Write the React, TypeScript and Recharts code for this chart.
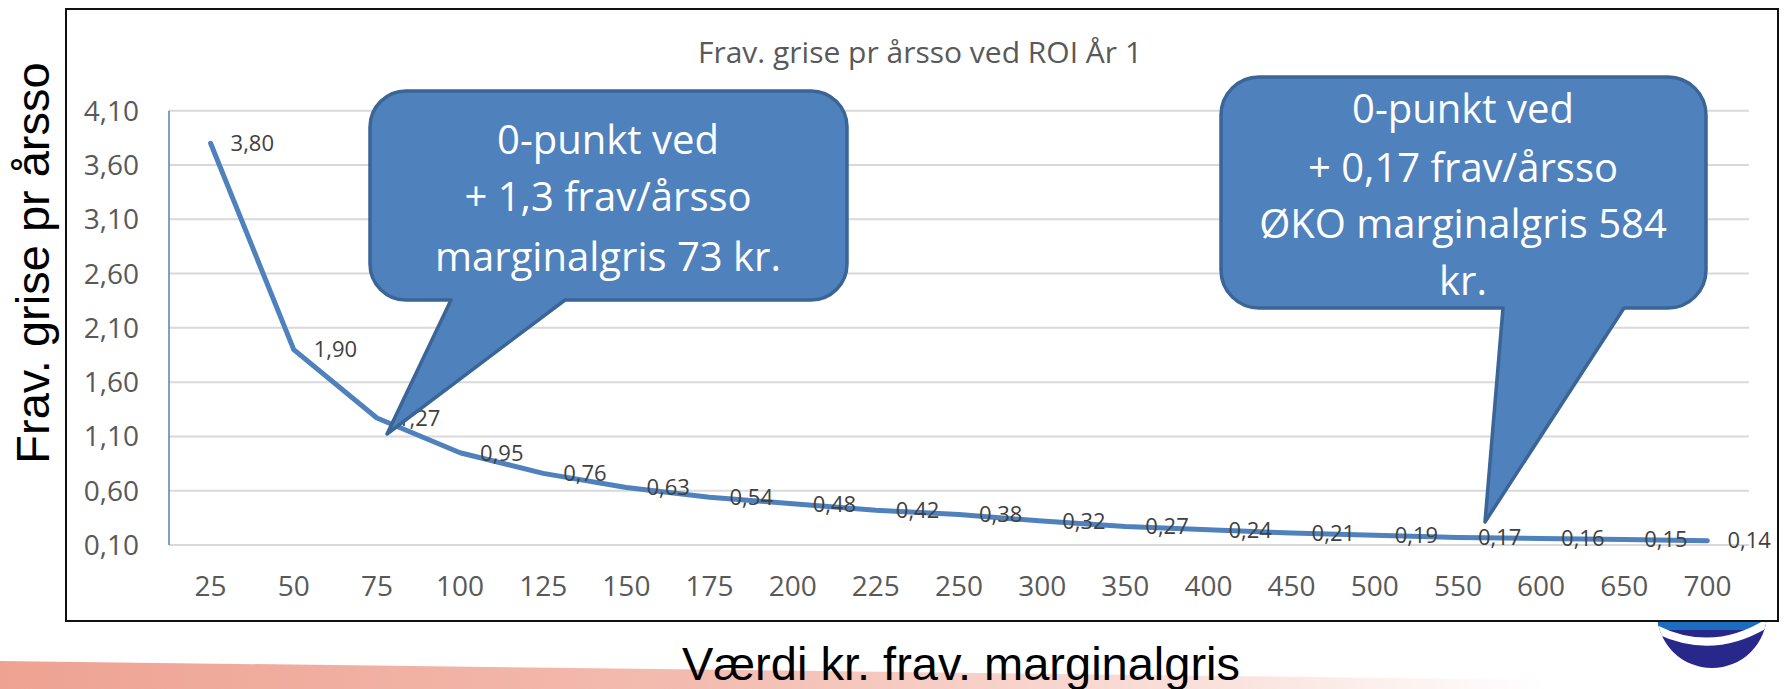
import { LineChart, Line, XAxis, YAxis, CartesianGrid, LabelList } from 'recharts';

// Værdi kr. frav. marginalgris (category axis)
const categories = [
  '25', '50', '75', '100', '125', '150', '175', '200', '225', '250',
  '300', '350', '400', '450', '500', '550', '600', '650', '700',
];
// Frav. grise pr årsso ved ROI år 1
const fravGrise = [
  3.8, 1.9, 1.27, 0.95, 0.76, 0.63, 0.54, 0.48, 0.42, 0.38,
  0.32, 0.27, 0.24, 0.21, 0.19, 0.17, 0.16, 0.15, 0.14,
];
const yTicks = [0.1, 0.6, 1.1, 1.6, 2.1, 2.6, 3.1, 3.6, 4.1];

const chartTitle = 'Frav. grise pr årsso ved ROI År 1';
const xTitle = 'Værdi kr. frav. marginalgris';
const yTitle = 'Frav. grise pr årsso';
const callout1 = ['0-punkt ved', '+ 1,3 frav/årsso', 'marginalgris 73 kr.'];
const callout2 = ['0-punkt ved', '+ 0,17 frav/årsso', 'ØKO marginalgris 584', 'kr.'];

const data = categories.map((kr, i) => ({ kr, value: fravGrise[i] }));

const comma = (v: number) => Number(v).toFixed(2).replace('.', ',');

const W = 1785;
const H = 689;
const BLUE = '#4f81bd';
const FONT = '"Open Sans", Calibri, sans-serif';

// rounded rectangle callout with a wedge on the bottom edge
function calloutPath(
  x0: number, y0: number, x1: number, y1: number, r: number,
  b1: number, b2: number, tx: number, ty: number,
) {
  return [
    `M${x0 + r},${y0}`,
    `H${x1 - r}`,
    `A${r},${r} 0 0 1 ${x1},${y0 + r}`,
    `V${y1 - r}`,
    `A${r},${r} 0 0 1 ${x1 - r},${y1}`,
    `H${b2}`,
    `L${tx},${ty}`,
    `L${b1},${y1}`,
    `H${x0 + r}`,
    `A${r},${r} 0 0 1 ${x0},${y1 - r}`,
    `V${y0 + r}`,
    `A${r},${r} 0 0 1 ${x0 + r},${y0}`,
    'Z',
  ].join(' ');
}

function Callout({ d, cx, lines, baselines }: { d: string; cx: number; lines: string[]; baselines: number[] }) {
  return (
    <g>
      <path d={d} fill={BLUE} stroke="#3a6596" strokeWidth={3.5} strokeLinejoin="round" />
      {lines.map((t, i) => (
        <text
          key={i}
          x={cx}
          y={baselines[i]}
          textAnchor="middle"
          fill="#ffffff"
          fontSize={40}
          fontFamily={FONT}
        >
          {t}
        </text>
      ))}
    </g>
  );
}

export default function App() {
  return (
    <div style={{ position: 'absolute', left: 0, top: 0, width: W, height: H, background: '#fff', overflow: 'hidden' }}>
      {/* slide background bits */}
      <svg width={W} height={H} style={{ position: 'absolute', left: 0, top: 0 }}>
        <defs>
          <linearGradient id="strip" x1="0" y1="0" x2="1" y2="0">
            <stop offset="0%" stopColor="#eea292" />
            <stop offset="45%" stopColor="#f3bcb0" />
            <stop offset="80%" stopColor="#fae3de" />
            <stop offset="100%" stopColor="#ffffff" />
          </linearGradient>
          <clipPath id="logo">
            <circle cx={1712} cy={613} r={55} />
          </clipPath>
        </defs>
        <polygon points="0,661 1550,680 1550,689 0,689" fill="url(#strip)" />
        <g clipPath="url(#logo)">
          <rect x={1650} y={550} width={130} height={130} fill="#28288a" />
          <rect x={1650} y={550} width={130} height={80} fill="#1c6cbf" />
          <path d="M1650,626 Q1712,660 1772,620" stroke="#ffffff" strokeWidth={8} fill="none" />
        </g>
      </svg>

      {/* chart frame */}
      <div
        style={{
          position: 'absolute',
          left: 65,
          top: 8,
          width: 1714,
          height: 614,
          boxSizing: 'border-box',
          border: '2px solid #111',
          background: '#fff',
        }}
      />

      <div style={{ position: 'absolute', left: 0, top: 0 }}>
        <LineChart width={W} height={H} data={data} margin={{ top: 110.7, right: 36, bottom: 84, left: 69 }}>
          <CartesianGrid vertical={false} stroke="#d9d9d9" strokeWidth={2} />
          <XAxis
            dataKey="kr"
            interval={0}
            height={60}
            padding={{ left: 41.6, right: 41.6 }}
            axisLine={false}
            tickLine={false}
            tickSize={0}
            tickMargin={31}
            tick={{ fontSize: 28, fill: '#595959', fontFamily: FONT }}
          />
          <YAxis
            type="number"
            domain={[0.1, 4.1]}
            ticks={yTicks}
            width={100}
            interval={0}
            tickFormatter={comma}
            axisLine={{ stroke: BLUE, strokeWidth: 1.5 }}
            tickLine={false}
            tickSize={0}
            tickMargin={30}
            tick={{ fontSize: 28, fill: '#595959', fontFamily: FONT }}
          />
          <Line
            type="linear"
            dataKey="value"
            stroke={BLUE}
            strokeWidth={5}
            strokeLinecap="round"
            strokeLinejoin="round"
            dot={false}
            activeDot={false}
            isAnimationActive={false}
          >
            <LabelList
              dataKey="value"
              position="right"
              offset={20}
              formatter={(v: any) => comma(v)}
              fill="#404040"
              fontSize={22}
              fontFamily={FONT}
            />
          </Line>
        </LineChart>
      </div>

      {/* titles and callouts */}
      <svg width={W} height={H} style={{ position: 'absolute', left: 0, top: 0 }}>
        <text x={920} y={63} textAnchor="middle" fill="#595959" fontSize={30} fontFamily={FONT}>
          {chartTitle}
        </text>
        <text
          x={49}
          y={263}
          transform="rotate(-90 49 263)"
          textAnchor="middle"
          fill="#000"
          fontSize={47}
          fontFamily='"Liberation Sans", Arial, sans-serif'
        >
          {yTitle}
        </text>
        <text
          x={961}
          y={680}
          textAnchor="middle"
          fill="#000"
          fontSize={47}
          fontFamily='"Liberation Sans", Arial, sans-serif'
        >
          {xTitle}
        </text>
        <Callout
          d={calloutPath(370, 91, 847, 300, 36, 451, 565, 387, 434)}
          cx={608}
          lines={callout1}
          baselines={[154, 211, 271]}
        />
        <Callout
          d={calloutPath(1221, 77, 1706, 308, 38, 1503, 1624, 1485, 522)}
          cx={1463}
          lines={callout2}
          baselines={[123, 182, 238, 295]}
        />
      </svg>
    </div>
  );
}
